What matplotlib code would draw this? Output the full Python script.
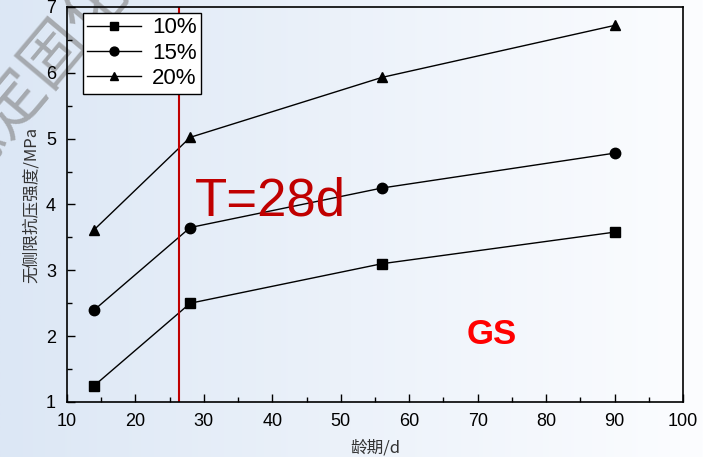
import numpy as np
import matplotlib
matplotlib.use("Agg")
import matplotlib.pyplot as plt

plt.rcParams['font.family'] = ['Liberation Sans', 'Noto Sans CJK SC', 'DejaVu Sans']

# data
age = [14, 28, 56, 90]
s10 = [1.25, 2.50, 3.10, 3.58]
s15 = [2.40, 3.65, 4.25, 4.78]
s20 = [3.62, 5.02, 5.93, 6.72]
labels = ['10%', '15%', '20%']
markers = ['s', 'o', '^']
t_line = 26.3

fig = plt.figure(figsize=(7.03, 4.57), dpi=100)

# light blue -> white background with a watermark
bg = fig.add_axes([0, 0, 1, 1], zorder=-10)
grad = np.linspace(0, 1, 256).reshape(1, -1)
c0 = np.array([220, 231, 245]) / 255.
c1 = np.array([252, 253, 255]) / 255.
img = c0[None, None, :] * (1 - grad[..., None]) + c1[None, None, :] * grad[..., None]
bg.imshow(img, aspect='auto', extent=[0, 1, 0, 1])
bg.axis('off')
bg.text(0.05, 0.83, '稳定固化', fontsize=46, color='#808080', alpha=0.6,
        rotation=50, ha='center', va='center', rotation_mode='anchor',
        family='Noto Sans CJK SC', fontweight='light', transform=bg.transAxes)

ax = fig.add_axes([0.0953, 0.1204, 0.8763, 0.8643])
ax.patch.set_alpha(0)

for y, lab, m in zip([s10, s15, s20], labels, markers):
    ax.plot(age, y, color='black', lw=1, marker=m, markersize=7.5, label=lab)

ax.axvline(t_line, color='#c00000', lw=1.5)
ax.text(28.7, 4.04, 'T=28d', fontsize=38, color='#c00000', va='center', ha='left')
ax.text(72.1, 2.02, 'GS', fontsize=25, color='#ff0000', fontweight='bold',
        va='center', ha='center')

ax.set_xlim(10, 100)
ax.set_ylim(1, 7)
ax.set_xticks(range(10, 101, 10))
ax.set_xticks(range(15, 100, 10), minor=True)
ax.set_yticks(range(1, 8))
ax.set_yticks(np.arange(1.5, 7, 1), minor=True)
ax.tick_params(which='both', direction='in', labelsize=13, top=False, right=False)
ax.tick_params(which='major', length=6, width=1)
ax.tick_params(which='minor', length=3.5, width=1)
ax.tick_params(axis='x', pad=8)
ax.tick_params(axis='y', pad=8)
for sp in ax.spines.values():
    sp.set_linewidth(1.2)

ax.set_xlabel('龄期/d', fontsize=12, color='#333333', family=['Noto Sans CJK SC'], labelpad=7)
ax.set_ylabel('无侧限抗压强度/MPa', fontsize=12, color='#333333', family=['Noto Sans CJK SC'], labelpad=4)

leg = ax.legend(loc='upper left', bbox_to_anchor=(0.026, 0.985), borderaxespad=0,
                fontsize=16, handlelength=2.4, fancybox=False, framealpha=1,
                edgecolor='black', labelspacing=0.2, borderpad=0.2, markerscale=0.85,
                handletextpad=0.5)
leg.get_frame().set_linewidth(1)

fig.savefig('out.png', dpi=100)
